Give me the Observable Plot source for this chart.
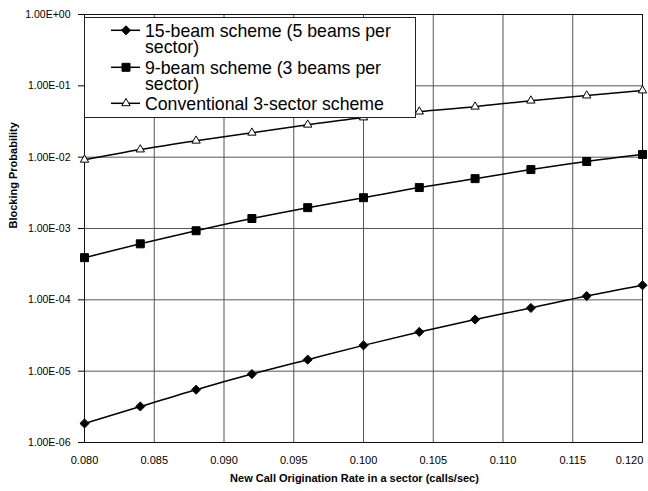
<!DOCTYPE html>
<html><head><meta charset="utf-8">
<script src="https://cdn.jsdelivr.net/npm/d3@7"></script>
<script src="https://cdn.jsdelivr.net/npm/@observablehq/plot@0.6"></script>
<style>
body{margin:0;background:#fff;}
#wrap{position:relative;width:648px;height:491px;font-family:"Liberation Sans",Arial,sans-serif;}
#legend{position:absolute;left:84px;top:17px;width:332px;height:101px;box-sizing:border-box;border:1px solid #222;background:#fff;padding-top:5.1px;font-size:17.7px;line-height:16px;color:#000;}
.item{position:relative;padding-left:60px;width:262px;margin-bottom:4.5px;}
.item span{display:block;}
.item svg{position:absolute;left:0;top:0;overflow:visible}
</style></head><body><div id="wrap"></div>
<script>
const rates = [0.080, 0.084, 0.088, 0.092, 0.096, 0.100, 0.104, 0.108, 0.112, 0.116, 0.120];
const seriesNames = ["15-beam scheme (5 beams per sector)", "9-beam scheme (3 beams per sector)", "Conventional 3-sector scheme"];
const beam15 = [1.85e-6, 3.2e-6, 5.5e-6, 9.1e-6, 1.45e-5, 2.3e-5, 3.55e-5, 5.3e-5, 7.7e-5, 1.13e-4, 1.6e-4];
const beam9 = [3.9e-4, 6.1e-4, 9.3e-4, 1.38e-3, 1.96e-3, 2.7e-3, 3.75e-3, 5.0e-3, 6.7e-3, 8.7e-3, 1.09e-2];
const conventional = [9.2e-3, 1.28e-2, 1.7e-2, 2.2e-2, 2.85e-2, 3.6e-2, 4.35e-2, 5.1e-2, 6.2e-2, 7.3e-2, 8.6e-2];
const xTicks = [0.080, 0.085, 0.090, 0.095, 0.100, 0.105, 0.110, 0.115, 0.120];
const yTicks = [1e-6, 1e-5, 1e-4, 1e-3, 1e-2, 1e-1, 1];
const xTitle = "New Call Origination Rate in a sector (calls/sec)";
const yTitle = "Blocking Probability";

const seriesValues = [beam15, beam9, conventional];
const symbols = ["diamond2", "square", "triangle"];
const fills = ["#000", "#000", "#fff"];
const radii = [4.1, 4.5, 3.1];

const data = [];
seriesValues.forEach((vals, i) => vals.forEach((v, j) => data.push({series: seriesNames[i], rate: rates[j], p: v})));

const fmtY = d => { const e = Math.round(Math.log10(d)); return "1.00E" + (e < 0 ? "-" : "+") + String(Math.abs(e)).padStart(2, "0"); };
const fmtX = d3.format(".3f");

const chart = Plot.plot({
  width: 648, height: 491,
  marginLeft: 84, marginRight: 6, marginTop: 14, marginBottom: 49,
  style: {fontFamily: "'Liberation Sans', Arial, sans-serif", fontSize: "11px", background: "#fff", color: "#000"},
  x: {domain: [0.08, 0.12]},
  y: {type: "log", domain: [1e-6, 1]},
  marks: [
    Plot.gridX(xTicks, {stroke: "#555", strokeOpacity: 1}),
    Plot.gridY(yTicks, {stroke: "#555", strokeOpacity: 1}),
    Plot.frame({stroke: "#111"}),
    Plot.axisX(xTicks.slice(0, -1), {tickFormat: fmtX, tickSize: 0, tickPadding: 14, label: null, fontSize: 11}),
    Plot.axisX(xTicks.slice(-1), {tickFormat: fmtX, tickSize: 0, tickPadding: 14, label: null, fontSize: 11, dx: -13}),
    Plot.axisY(yTicks, {tickFormat: fmtY, tickSize: 6, tickPadding: 8, label: null, fontSize: 10.5}),
    Plot.line(data, {x: "rate", y: "p", z: "series", stroke: "#000", strokeWidth: 1.5, curve: "monotone-x"}),
    ...seriesNames.map((s, i) => Plot.dot(data.filter(d => d.series === s), {
      x: "rate", y: "p", symbol: symbols[i], fill: fills[i], stroke: "#000", strokeWidth: 1, r: radii[i]
    })),
    Plot.text([xTitle], {text: d => d, frameAnchor: "bottom", dy: 39, dx: -9, fontWeight: "bold", fontSize: 11}),
    Plot.text([yTitle], {text: d => d, frameAnchor: "left", rotate: -90, dx: -71, fontWeight: "bold", fontSize: 11})
  ]
});

const wrap = document.getElementById("wrap");
wrap.appendChild(chart);

const legend = d3.select(wrap).append("div").attr("id", "legend");
const symMap = {diamond2: d3.symbolDiamond2, square: d3.symbolSquare, triangle: d3.symbolTriangle};
seriesNames.forEach((name, i) => {
  const item = legend.append("div").attr("class", "item");
  const svg = item.append("svg").attr("width", 60).attr("height", 16);
  const cy = 7.3;
  svg.append("line").attr("x1", 26).attr("x2", 55).attr("y1", cy).attr("y2", cy).attr("stroke", "#000").attr("stroke-width", 1.5);
  svg.append("path")
    .attr("transform", `translate(41,${cy})`)
    .attr("d", d3.symbol(symMap[symbols[i]], Math.PI * radii[i] * radii[i])())
    .attr("fill", fills[i]).attr("stroke", "#000").attr("stroke-width", 1);
  item.append("span").text(name);
});
</script>
</body></html>
